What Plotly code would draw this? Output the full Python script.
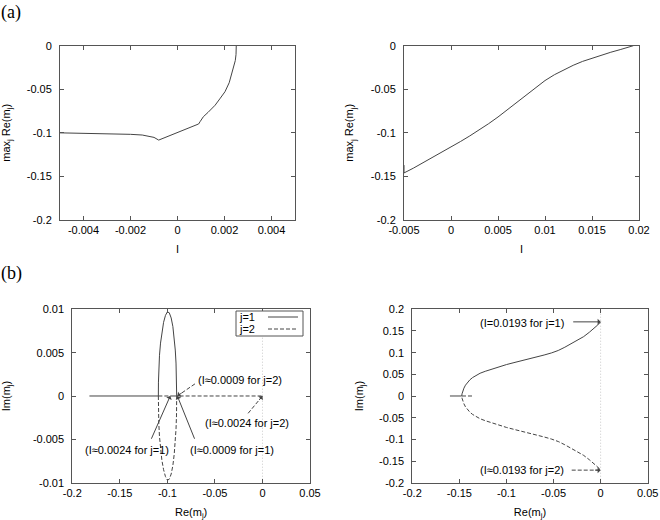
import plotly.graph_objects as go
from plotly.subplots import make_subplots

# ---- (a) left: max_j Re(m_j) against I (narrow window)
i_a1 = [-0.005, -0.004, -0.003, -0.002, -0.0015, -0.0012, -0.001, -0.0008, 0.0,
        0.0009, 0.00096, 0.0011, 0.0013, 0.0016, 0.0018, 0.00202, 0.0022, 0.00231,
        0.0024, 0.00246, 0.00249, 0.0025]
re_a1 = [-0.1, -0.1004, -0.1009, -0.1017, -0.1025, -0.1036, -0.1052, -0.1083, -0.0996,
         -0.0898, -0.0872, -0.0815, -0.0765, -0.0683, -0.061, -0.0528, -0.0425, -0.0317,
         -0.024, -0.017, -0.01, 0.0]

# ---- (a) right: max_j Re(m_j) against I (wide window)
i_a2 = [-0.005, -0.005, -0.004, -0.003, -0.002, -0.001, 0.0, 0.001, 0.002, 0.003, 0.004,
        0.005, 0.006, 0.007, 0.008, 0.009, 0.010, 0.011, 0.012, 0.013, 0.014, 0.015,
        0.016, 0.017, 0.018, 0.019, 0.0194]
re_a2 = [-0.137, -0.146, -0.1405, -0.1345, -0.1285, -0.1225, -0.1165, -0.110, -0.1035,
         -0.0968, -0.0895, -0.0818, -0.0735, -0.0648, -0.056, -0.0477, -0.040, -0.0333,
         -0.0275, -0.0225, -0.018, -0.0142, -0.0107, -0.0075, -0.0045, -0.0016, 0.0]

# ---- (b) left: eigenvalue paths m_1, m_2 (small window)
arc_re = [-0.1095, -0.1094, -0.1090, -0.1083, -0.1072, -0.1058, -0.1040, -0.1020, -0.1000,
          -0.0980, -0.0960, -0.0942, -0.0928, -0.0917, -0.0909, -0.0904, -0.0902]
arc_im = [0.0, 0.0016, 0.0032, 0.0047, 0.0061, 0.0074, 0.0085, 0.0093, 0.0097,
          0.0096, 0.0090, 0.0080, 0.0067, 0.0053, 0.0038, 0.0022, 0.0]
b1_re_j1 = [-0.182] + arc_re + [-0.0970]
b1_im_j1 = [0.0] + arc_im + [0.0]
b1_re_j2 = arc_re + [0.0, None, -0.1095, -0.0970]
b1_im_j2 = [-v for v in arc_im] + [0.0, None, 0.0, 0.0]

# ---- (b) right: eigenvalue paths m_1, m_2 (wide window)
b2_re_j1 = [-0.160, -0.1475, -0.1472, -0.1465, -0.1452, -0.1435, -0.1415, -0.139, -0.136,
            -0.1325, -0.128, -0.1225, -0.116, -0.108, -0.100, -0.092, -0.084, -0.076,
            -0.068, -0.060, -0.052, -0.045, -0.038, -0.031, -0.024, -0.018, -0.012,
            -0.007, -0.003, 0.0]
b2_im_j1 = [0.0, 0.0, 0.005, 0.011, 0.018, 0.025, 0.031, 0.037, 0.0425, 0.0475, 0.0525,
            0.057, 0.062, 0.0675, 0.0725, 0.077, 0.081, 0.0855, 0.090, 0.0945, 0.0995,
            0.105, 0.1125, 0.1205, 0.129, 0.137, 0.147, 0.156, 0.164, 0.171]
b2_re_j2 = [-0.1366] + b2_re_j1[1:]
b2_im_j2 = [0.0] + [-v for v in b2_im_j1[1:]]

# tick values / labels
xt_a1 = [-0.004, -0.002, 0, 0.002, 0.004]
xl_a1 = ["-0.004", "-0.002", "0", "0.002", "0.004"]
xt_a2 = [-0.005, 0, 0.005, 0.01, 0.015, 0.02]
xl_a2 = ["-0.005", "0", "0.005", "0.01", "0.015", "0.02"]
yt_a = [0, -0.05, -0.1, -0.15, -0.2]
yl_a = ["0", "-0.05", "-0.1", "-0.15", "-0.2"]
xt_b = [-0.2, -0.15, -0.1, -0.05, 0, 0.05]
xl_b = ["-0.2", "-0.15", "-0.1", "-0.05", "0", "0.05"]
yt_b1 = [-0.01, -0.005, 0, 0.005, 0.01]
yl_b1 = ["-0.01", "-0.005", "0", "0.005", "0.01"]
yt_b2 = [-0.2, -0.15, -0.1, -0.05, 0, 0.05, 0.1, 0.15, 0.2]
yl_b2 = ["-0.2", "-0.15", "-0.1", "-0.05", "0", "0.05", "0.1", "0.15", "0.2"]

# labels: (text, x, y) and arrows: (tail, tip, dashed)
b1_labels = [("(I\u22480.0009 for j=2)", -0.0698, 0.0018),
             ("(I\u22480.0024 for j=2)", -0.0624, -0.00315),
             ("(I\u22480.0024 for j=1)", -0.1887, -0.00627),
             ("(I\u22480.0009 for j=1)", -0.0782, -0.00627)]
b1_arrows = [((-0.071, 0.0014), (-0.0895, 0.0), True),
             ((-0.0151, -0.002), (0.0, 0.0), True),
             ((-0.1175, -0.0051), (-0.0970, 0.0), False),
             ((-0.0708, -0.0051), (-0.0895, 0.0), False)]
b2_labels = [("(I=0.0193 for j=1)", -0.1302, 0.169),
             ("(I\u22480.0193 for j=2)", -0.1302, -0.1707)]
b2_arrows = [((-0.0307, 0.171), (0.0, 0.171), False),
             ((-0.0307, -0.171), (0.0, -0.171), True)]
series_names = ["j=1", "j=2"]

W, H = 660, 520
line_col = "#444"
frame_col = "#555"
dash_pat = "4px,2px"
fnt = "Liberation Sans, Arial, Helvetica, sans-serif"


def px_x(p):     # screen pixel -> paper fraction
    return p / W


def px_y(p):
    return 1 - p / H


fig = make_subplots(rows=2, cols=2)

fig.add_trace(go.Scatter(x=i_a1, y=re_a1, mode="lines", showlegend=False,
                         line=dict(color=line_col, width=1)), row=1, col=1)
fig.add_trace(go.Scatter(x=i_a2, y=re_a2, mode="lines", showlegend=False,
                         line=dict(color=line_col, width=1)), row=1, col=2)
fig.add_trace(go.Scatter(x=b1_re_j1, y=b1_im_j1, mode="lines", name=series_names[0],
                         showlegend=False, line=dict(color=line_col, width=1)), row=2, col=1)
fig.add_trace(go.Scatter(x=b1_re_j2, y=b1_im_j2, mode="lines", name=series_names[1],
                         showlegend=False, line=dict(color=line_col, width=1, dash=dash_pat)),
              row=2, col=1)
fig.add_trace(go.Scatter(x=b2_re_j1, y=b2_im_j1, mode="lines", showlegend=False,
                         line=dict(color=line_col, width=1)), row=2, col=2)
fig.add_trace(go.Scatter(x=b2_re_j2, y=b2_im_j2, mode="lines", showlegend=False,
                         line=dict(color=line_col, width=1, dash=dash_pat)), row=2, col=2)

ax_style = dict(showline=True, mirror="ticks", linecolor=frame_col, linewidth=1,
                ticks="inside", ticklen=4, tickcolor=frame_col, showgrid=False,
                zeroline=False, automargin=False, tickfont=dict(size=11, color="black"),
                title_font=dict(size=11, color="black"))
fig.update_xaxes(**ax_style)
fig.update_yaxes(ticklabelstandoff=5, **ax_style)

# panel placement (pixel boxes)
boxes = {1: (60, 295, 45.7, 220), 2: (404, 639, 45.7, 220),
         3: (72.3, 310, 309.3, 482.7), 4: (412.3, 647.7, 309.3, 482.7)}
for k, (x0, x1, y0, y1) in boxes.items():
    sfx = "" if k == 1 else str(k)
    fig.layout["xaxis" + sfx].domain = [px_x(x0), px_x(x1)]
    fig.layout["yaxis" + sfx].domain = [px_y(y1), px_y(y0)]

fig.update_xaxes(range=[-0.005, 0.005], tickvals=xt_a1, ticktext=xl_a1,
                 title=dict(text="I", standoff=10), row=1, col=1)
fig.update_xaxes(range=[-0.005, 0.02], tickvals=xt_a2, ticktext=xl_a2,
                 title=dict(text="I", standoff=10), row=1, col=2)
fig.update_yaxes(range=[-0.2, 0], tickvals=yt_a, ticktext=yl_a,
                 title=dict(text="max<sub>j</sub> Re(m<sub>j</sub>)", standoff=14), row=1, col=1)
fig.update_yaxes(range=[-0.2, 0], tickvals=yt_a, ticktext=yl_a,
                 title=dict(text="max<sub>j</sub> Re(m<sub>j</sub>)", standoff=14), row=1, col=2)
fig.update_xaxes(range=[-0.2, 0.05], tickvals=xt_b, ticktext=xl_b,
                 title=dict(text="Re(m<sub>j</sub>)", standoff=13), row=2, col=1)
fig.update_xaxes(range=[-0.2, 0.05], tickvals=xt_b, ticktext=xl_b,
                 title=dict(text="Re(m<sub>j</sub>)", standoff=13), row=2, col=2)
fig.update_yaxes(range=[-0.01, 0.01], tickvals=yt_b1, ticktext=yl_b1,
                 title=dict(text="Im(m<sub>j</sub>)", standoff=22), row=2, col=1)
fig.update_yaxes(range=[-0.2, 0.2], tickvals=yt_b2, ticktext=yl_b2,
                 title=dict(text="Im(m<sub>j</sub>)", standoff=13), row=2, col=2)

# dotted zero line in the (b) panels
for c in (1, 2):
    fig.add_vline(x=0, line=dict(color="#c8c8c8", width=1, dash="1px,2px"),
                  layer="below", row=2, col=c)


def put_arrows(labels, arrows, k, xr, yr):
    xref, yref = "x%d" % k, "y%d" % k
    x0, x1, y0, y1 = boxes[k]
    sx = (x1 - x0) / (xr[1] - xr[0])
    sy = (y1 - y0) / (yr[1] - yr[0])
    for txt, lx, ly in labels:
        fig.add_annotation(x=lx, y=ly, xref=xref, yref=yref, text=txt, showarrow=False,
                           xanchor="left", yanchor="middle", font=dict(size=11, color="black"))
    for (tx, ty), (hx, hy), dashed in arrows:
        if dashed:
            fig.add_shape(type="line", x0=tx, y0=ty, x1=hx, y1=hy, xref=xref, yref=yref,
                          line=dict(color=line_col, width=1, dash=dash_pat))
            dx, dy = (tx - hx) * sx, -(ty - hy) * sy
            n = (dx * dx + dy * dy) ** 0.5
            fig.add_annotation(x=hx, y=hy, xref=xref, yref=yref, ax=dx / n * 7, ay=dy / n * 7,
                               text="", showarrow=True, arrowhead=1, arrowsize=1,
                               arrowwidth=1, arrowcolor=line_col, standoff=0)
        else:
            fig.add_annotation(x=hx, y=hy, xref=xref, yref=yref, ax=tx, ay=ty,
                               axref=xref, ayref=yref, text="", showarrow=True,
                               arrowhead=1, arrowsize=1, arrowwidth=1,
                               arrowcolor=line_col, standoff=0)


put_arrows(b1_labels, b1_arrows, 3, (-0.2, 0.05), (-0.01, 0.01))
put_arrows(b2_labels, b2_arrows, 4, (-0.2, 0.05), (-0.2, 0.2))

# compact gnuplot-style key in panel (b) left: text on the left, sample on the right
key_x0, key_x1, key_y0 = px_x(236), px_x(303), px_y(311)
row_h = 12 / H
fig.add_shape(type="rect", xref="paper", yref="paper", x0=key_x0, x1=key_x1,
              y0=key_y0 - 2 * row_h - 1 / H, y1=key_y0,
              line=dict(color=frame_col, width=1), fillcolor="white")
for n, (name, dsh) in enumerate(zip(series_names, ["solid", dash_pat])):
    yy = key_y0 - (n + 0.5) * row_h
    fig.add_annotation(x=key_x0 + 2 / W, y=yy, xref="paper", yref="paper", text=name,
                       showarrow=False, xanchor="left", yanchor="middle",
                       font=dict(size=11, color="black"), borderpad=0)
    fig.add_shape(type="line", xref="paper", yref="paper", x0=px_x(268), x1=px_x(298),
                  y0=yy, y1=yy, line=dict(color=line_col, width=1, dash=dsh))

for txt, yy in (("(a)", px_y(1)), ("(b)", px_y(262))):
    fig.add_annotation(x=0, y=yy, xref="paper", yref="paper", text=txt, showarrow=False,
                       xanchor="left", yanchor="top", borderpad=0,
                       font=dict(family="Liberation Serif, Times New Roman, serif", size=18,
                                 color="black"))

fig.update_layout(
    width=W, height=H, margin=dict(l=0, r=0, t=0, b=0),
    paper_bgcolor="white", plot_bgcolor="white", showlegend=False,
    font=dict(family=fnt, size=11, color="black"),
)

# drop the default page margin so the 660x520 figure fills the window exactly
fig.write_html("out.html", config={"displayModeBar": False},
               post_script="document.body.style.margin='0';"
                           "document.body.style.overflow='hidden';")
